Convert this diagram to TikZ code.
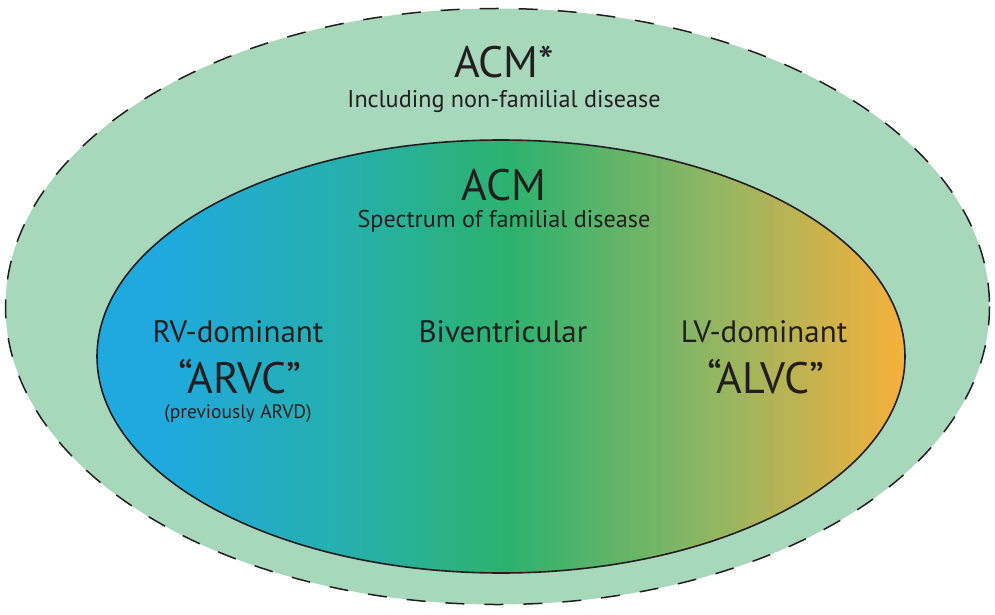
\documentclass[tikz,border=0pt]{standalone}
\usepackage{fontspec}
\setmainfont{PT Sans}
\definecolor{outerfill}{HTML}{A8D8BC}
\definecolor{cblue}{HTML}{1FA9DF}
\definecolor{cteal}{HTML}{25B0AE}
\definecolor{cgreen}{HTML}{2CB26E}
\definecolor{colive}{HTML}{8CB664}
\definecolor{corange}{HTML}{F7B03B}
\definecolor{txt}{HTML}{231F20}
\pgfdeclarehorizontalshading{acmshade}{100bp}{color(0bp)=(cblue); color(29bp)=(cblue); color(40bp)=(cteal); color(50.5bp)=(cgreen); color(62.5bp)=(colive); color(75bp)=(corange); color(100bp)=(corange)}
\begin{document}
\begin{tikzpicture}[x=1pt,y=-1pt,
  lbl/.style={text=txt,inner sep=0pt,anchor=base},
  big/.style={lbl,font=\fontsize{44}{48}\selectfont},
  mid/.style={lbl,font=\fontsize{31}{34}\selectfont},
  sub/.style={lbl,font=\fontsize{24.2}{27}\selectfont},
  tiny/.style={lbl,font=\fontsize{19.5}{22}\selectfont}]
\useasboundingbox (0,0) rectangle (995,615);
\fill[outerfill] (497.5,306.5) ellipse [x radius=492, y radius=298];
\draw[line width=1.5pt,dash pattern=on 19pt off 20pt,color=txt] (497.5,306.5) ellipse [x radius=492, y radius=298];
\shade[shading=acmshade] (501,356.5) ellipse [x radius=404, y radius=216.5];
\draw[line width=1.6pt,color=txt] (501,356.5) ellipse [x radius=404, y radius=216.5];
\node[big] (acmstar) at (504,78) {ACM*};
\node[sub] (incl) at (504,107) {Including non-familial disease};
\node[big] (acm) at (504,200) {ACM};
\node[sub] (spec) at (504,227) {Spectrum of familial disease};
\node[mid] (rv) at (238,342) {RV-dominant};
\node[big] (arvc) at (240,393) {“ARVC”};
\node[tiny] (prev) at (238,418) {(previously ARVD)};
\node[mid] (bi) at (503,342) {Biventricular};
\node[mid] (lv) at (764,342) {LV-dominant};
\node[big] (alvc) at (766,393) {“ALVC”};
\end{tikzpicture}
\end{document}
